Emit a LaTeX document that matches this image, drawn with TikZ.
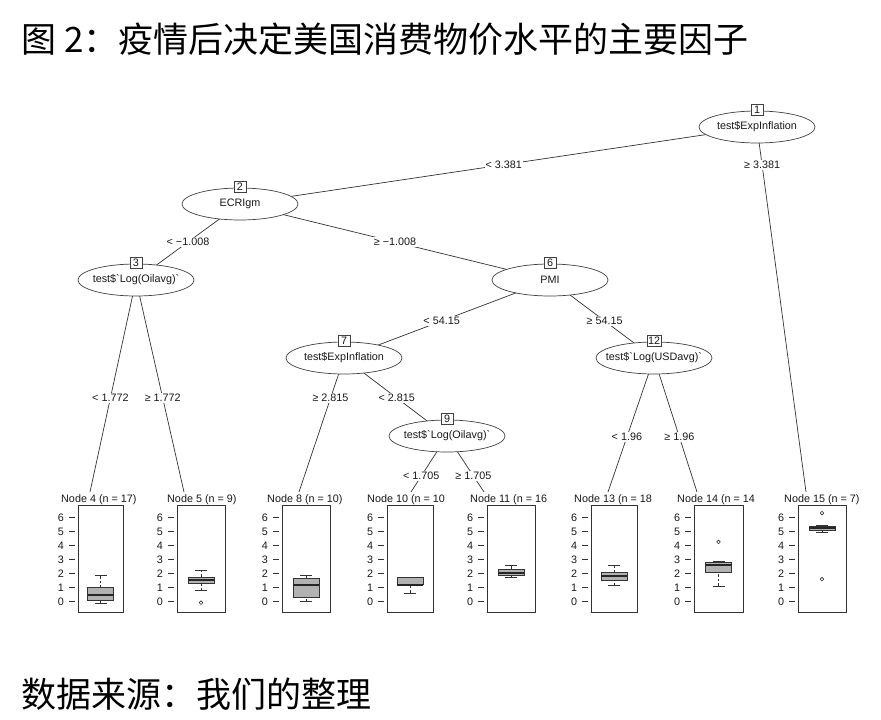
\documentclass[tikz,border=0pt]{standalone}
\usepackage{fontspec}
\setmainfont{Liberation Sans}
\newfontfamily\cjkfont{Noto Sans CJK SC}
\usetikzlibrary{shapes.geometric,backgrounds}
\newcommand{\rfont}{\fontsize{10.8}{12}\selectfont}
\tikzset{
  inner/.style={ellipse, draw=black!75, fill=white, line width=0.7pt, minimum width=116pt, minimum height=32pt, inner xsep=-25pt, inner ysep=0pt, font=\rfont, text=black!90},
  idbox/.style={draw=black!75, fill=white, line width=0.7pt, inner sep=1pt, minimum width=12pt, minimum height=11pt, font=\rfont, text=black!90},
  edge/.style={draw=black!80, line width=0.7pt},
  elab/.style={fill=white, inner sep=1pt, font=\rfont, text=black!90},
  termlab/.style={anchor=west, inner sep=0pt, font=\rfont, text=black!90},
  panel/.style={draw=black!80, line width=0.7pt},
  axis/.style={draw=black!80, line width=0.6pt},
  ticklab/.style={inner sep=0pt, font=\rfont, text=black!90},
  whisk/.style={draw=black!80, line width=0.7pt, dash pattern=on 2.5pt off 2pt},
  bxfill/.style={draw=black!80, line width=0.7pt, fill=gray!60},
}
% #1 id, #2 left, #3 right, #4 low whisker, #5 q1, #6 median, #7 q3, #8 high whisker
\newcommand{\bxpanel}[8]{%
  \draw[panel] (#2,505) rectangle (#3,612);
  \begin{scope}[shift={(0,601.7)}, y=14.07pt]
    \foreach \v in {0,...,6}{
      \draw[axis] ({#2-9},\v) -- ({#2-3},\v);
      \node[ticklab] (tk#1-\v) at ({#2-17},\v) {\v};
    }
    \pgfmathsetmacro{\cc}{(#2+#3)/2}
    \draw[whisk] (\cc,#7) -- (\cc,#8);
    \draw[whisk] (\cc,#4) -- (\cc,#5);
    \draw[panel] ({\cc-6},#8) -- ({\cc+6},#8);
    \draw[panel] ({\cc-6},#4) -- ({\cc+6},#4);
    \draw[bxfill] ({\cc-13},#5) rectangle ({\cc+13},#7);
    \draw[draw=black!85, line width=2pt] ({\cc-13},#6) -- ({\cc+13},#6);
  \end{scope}
}
\newcommand{\outl}[2]{%
  \begin{scope}[shift={(0,601.7)}, y=14.07pt]
    \draw[panel, line width=0.6pt] (#1,#2) circle[radius=1.8pt];
  \end{scope}
}
\begin{document}
\begin{tikzpicture}[x=1pt, y=-1pt]
\useasboundingbox (0,0) rectangle (881,720);

% titles
\node[anchor=base west, inner sep=0pt] (title) at (21,52) {\cjkfont\fontsize{35}{40}\selectfont 图 2：疫情后决定美国消费物价水平的主要因子};
\node[anchor=base west, inner sep=0pt] (source) at (21,707) {\cjkfont\fontsize{35}{40}\selectfont 数据来源：我们的整理};

% inner nodes
\node[inner] (n1) at (757,127) {test\$ExpInflation};
\node[inner] (n2) at (240,204) {ECRIgm};
\node[inner] (n3) at (136,280) {test\$\textasciigrave Log(Oilavg)\textasciigrave};
\node[inner] (n6) at (550,280) {PMI};
\node[inner] (n7) at (344,358) {test\$ExpInflation};
\node[inner] (n9) at (447,436) {test\$\textasciigrave Log(Oilavg)\textasciigrave};
\node[inner] (n12) at (654,358) {test\$\textasciigrave Log(USDavg)\textasciigrave};

\foreach \n/\t in {n1/1, n2/2, n3/3, n6/6, n7/7, n9/9, n12/12}{
  \node[idbox] (b\t) at ([yshift=1pt]\n.north) {\t};
}

% terminal edge ends and labels
\coordinate (t4) at (90,492);
\coordinate (t5) at (184,492);
\coordinate (t8) at (299,492);
\coordinate (t10) at (411,492);
\coordinate (t11) at (484,492);
\coordinate (t13) at (608,492);
\coordinate (t14) at (697,492);
\coordinate (t15) at (806,492);

\node[termlab] (l4) at (61,500) {Node 4 (n = 17)};
\node[termlab] (l5) at (167,500) {Node 5 (n = 9)};
\node[termlab] (l8) at (267,500) {Node 8 (n = 10)};
\node[termlab] (l10) at (367,500) {Node 10 (n = 10};
\node[termlab] (l11) at (470,500) {Node 11 (n = 16};
\node[termlab] (l13) at (574,500) {Node 13 (n = 18};
\node[termlab] (l14) at (677,500) {Node 14 (n = 14};
\node[termlab] (l15) at (784,500) {Node 15 (n = 7)};

% edges
\begin{scope}[on background layer]
\fill[white] (0,0) rectangle (881,720);
\draw[edge] (n1.center) -- node[elab, pos=0.49] {< 3.381} (n2.center);
\draw[edge] (n1.center) -- node[elab, pos=0.104] {≥ 3.381} (t15);
\draw[edge] (n2.center) -- node[elab, pos=0.5] {< −1.008} (n3.center);
\draw[edge] (n2.center) -- node[elab, pos=0.5] {≥ −1.008} (n6.center);
\draw[edge] (n3.center) -- node[elab, pos=0.557] {< 1.772} (t4);
\draw[edge] (n3.center) -- node[elab, pos=0.557] {≥ 1.772} (t5);
\draw[edge] (n6.center) -- node[elab, pos=0.526] {< 54.15} (n7.center);
\draw[edge] (n6.center) -- node[elab, pos=0.526] {≥ 54.15} (n12.center);
\draw[edge] (n7.center) -- node[elab, pos=0.3] {≥ 2.815} (t8);
\draw[edge] (n7.center) -- node[elab, pos=0.513] {< 2.815} (n9.center);
\draw[edge] (n9.center) -- node[elab, pos=0.714] {< 1.705} (t10);
\draw[edge] (n9.center) -- node[elab, pos=0.714] {≥ 1.705} (t11);
\draw[edge] (n12.center) -- node[elab, pos=0.59] {< 1.96} (t13);
\draw[edge] (n12.center) -- node[elab, pos=0.59] {≥ 1.96} (t14);
\end{scope}

% terminal panels
\bxpanel{4}{78}{123}{-0.15}{0.1}{0.45}{1.0}{1.9}
\bxpanel{5}{177}{225}{0.78}{1.27}{1.55}{1.76}{2.26}
\outl{201}{-0.07}
\bxpanel{8}{282}{330}{0.05}{0.28}{1.2}{1.63}{1.9}
\bxpanel{10}{387}{433}{0.62}{1.2}{1.22}{1.76}{1.76}
\bxpanel{11}{487}{535}{1.7}{1.85}{2.05}{2.33}{2.55}
\bxpanel{13}{591}{637}{1.15}{1.55}{1.8}{2.1}{2.55}
\bxpanel{14}{694}{743}{1.12}{2.1}{2.6}{2.8}{2.9}
\outl{718.5}{4.25}
\bxpanel{15}{798}{846}{4.9}{5.1}{5.25}{5.35}{5.4}
\outl{822}{6.3}
\outl{822}{1.6}
\end{tikzpicture}
\end{document}
